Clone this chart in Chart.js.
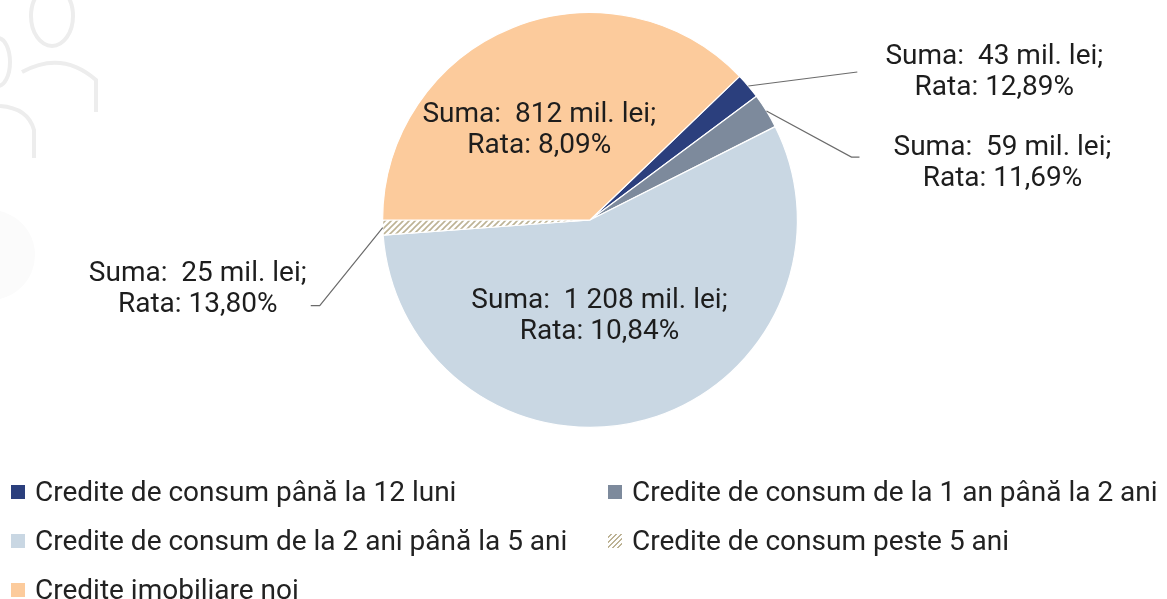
<!DOCTYPE html>
<html>
<head>
<meta charset="utf-8">
<script src="https://cdn.jsdelivr.net/npm/chart.js@4"></script>
<style>
  html, body { margin: 0; padding: 0; background: #fff; }
  #wrap { position: relative; width: 1167px; height: 599px; overflow: hidden; }
  #pieChart { position: absolute; left: 0; top: 0; }
  #legend {
    position: absolute; left: 11px; top: 467px;
    display: grid; grid-template-columns: 597px auto; grid-auto-rows: 49px;
    font-family: Roboto, sans-serif; font-size: 28px; color: #222;
  }
  .item { display: flex; align-items: center; white-space: nowrap; }
  .box { width: 14px; height: 14px; margin-right: 10px; flex: none; }
</style>
</head>
<body>
<div id="wrap">
  <canvas id="pieChart" width="1167" height="599"></canvas>
  <div id="legend"></div>
</div>
<script>
const categories = [
  "Credite de consum până la 12 luni",
  "Credite de consum de la 1 an până la 2 ani",
  "Credite de consum de la 2 ani până la 5 ani",
  "Credite de consum peste 5 ani",
  "Credite imobiliare noi",
];
const amounts = [43, 59, 1208, 25, 812]; // mil. lei
const rates = [12.89, 11.69, 10.84, 13.8, 8.09]; // %

const colors = ["#2b3f7d", "#7d8a9c", "#c9d7e3", "hatch", "#fccb9c"];

// where each label goes: inside the slice, or outside with a leader line
const labelStyle = [
  { out: true, line: [[109, -14]], text: [246, -14] },
  { out: true, line: [[85, 46], [93, 46]], text: [236, 52] },
  { out: false, f: 0.46, dx: -16, dy: 5 },
  { out: true, line: [[-63, 78], [-72, 78]], text: [-185, 62] },
  { out: false, f: 0.5, dx: -12, dy: 7 },
];

function makeHatch() {
  const c = document.createElement("canvas");
  c.width = 6;
  c.height = 6;
  const g = c.getContext("2d");
  g.fillStyle = "#ffffff";
  g.fillRect(0, 0, 6, 6);
  g.strokeStyle = "#bdb395";
  g.lineWidth = 1.6;
  g.beginPath();
  g.moveTo(-1, 7); g.lineTo(7, -1);
  g.moveTo(-4, 4); g.lineTo(4, -4);
  g.moveTo(2, 10); g.lineTo(10, 2);
  g.stroke();
  return g.createPattern(c, "repeat");
}

const ctx = document.getElementById("pieChart");
const hatch = makeHatch();
const fills = colors.map((c) => (c === "hatch" ? hatch : c));

function fmtAmount(v) {
  return String(v).replace(/\B(?=(\d{3})+(?!\d))/g, " ");
}
function fmtRate(v) {
  return v.toFixed(2).replace(".", ",") + "%";
}

// faint background icons, like the original page
const bgIcons = {
  id: "bgIcons",
  beforeDraw(chart) {
    const g = chart.ctx;
    g.save();
    g.strokeStyle = "#ededed";
    g.lineWidth = 4;
    g.beginPath();
    g.ellipse(52, 16, 21, 30, 0, 0, Math.PI * 2);
    g.stroke();
    g.beginPath();
    g.moveTo(22, 72);
    g.quadraticCurveTo(62, 50, 96, 80);
    g.lineTo(96, 112);
    g.stroke();
    g.beginPath();
    g.ellipse(-2, 62, 12, 24, 0, -Math.PI / 2, Math.PI / 2);
    g.stroke();
    g.beginPath();
    g.moveTo(0, 106);
    g.quadraticCurveTo(28, 108, 34, 130);
    g.lineTo(34, 158);
    g.stroke();
    g.fillStyle = "#fbfbfb";
    g.beginPath();
    g.arc(-10, 255, 45, 0, Math.PI * 2);
    g.fill();
    g.restore();
  },
};

const sliceLabels = {
  id: "sliceLabels",
  afterDatasetsDraw(chart) {
    const g = chart.ctx;
    const arcs = chart.getDatasetMeta(0).data;
    g.save();
    g.font = "28px Roboto, sans-serif";
    g.fillStyle = "#1d1d1d";
    g.textAlign = "center";
    g.textBaseline = "middle";
    arcs.forEach((arc, i) => {
      const st = labelStyle[i];
      const mid = (arc.startAngle + arc.endAngle) / 2;
      const lines = ["Suma:  " + fmtAmount(amounts[i]) + " mil. lei;", "Rata: " + fmtRate(rates[i])];
      let tx, ty;
      if (st.out) {
        const ex = arc.x + Math.cos(mid) * arc.outerRadius;
        const ey = arc.y + Math.sin(mid) * arc.outerRadius;
        g.strokeStyle = "#6b6b6b";
        g.lineWidth = 1.2;
        g.beginPath();
        g.moveTo(ex, ey);
        st.line.forEach((p) => g.lineTo(ex + p[0], ey + p[1]));
        g.stroke();
        tx = ex + st.text[0];
        ty = ey + st.text[1];
      } else {
        const rr = arc.outerRadius * st.f;
        tx = arc.x + Math.cos(mid) * rr + st.dx;
        ty = arc.y + Math.sin(mid) * rr + st.dy;
      }
      g.fillText(lines[0], tx, ty - 15.5);
      g.fillText(lines[1], tx, ty + 15.5);
    });
    g.restore();
  },
};

const startAngle = 46.15;

new Chart(ctx, {
  type: "pie",
  data: {
    labels: categories,
    datasets: [
      {
        data: amounts,
        backgroundColor: fills,
        borderColor: "#ffffff",
        borderWidth: 1.2,
      },
    ],
  },
  options: {
    responsive: false,
    animation: false,
    rotation: startAngle,
    layout: { padding: { top: 12, bottom: 171, left: 13, right: 0 } },
    plugins: {
      legend: { display: false },
      tooltip: { enabled: false },
    },
  },
  plugins: [bgIcons, sliceLabels],
});

const legendEl = document.getElementById("legend");
categories.forEach((name, i) => {
  const item = document.createElement("div");
  item.className = "item";
  const box = document.createElement("span");
  box.className = "box";
  if (colors[i] === "hatch") {
    box.style.background = "repeating-linear-gradient(135deg, #fff 0 2px, #bdb395 2px 3.5px)";
  } else {
    box.style.background = colors[i];
  }
  item.appendChild(box);
  item.appendChild(document.createTextNode(name));
  legendEl.appendChild(item);
});
</script>
</body>
</html>
